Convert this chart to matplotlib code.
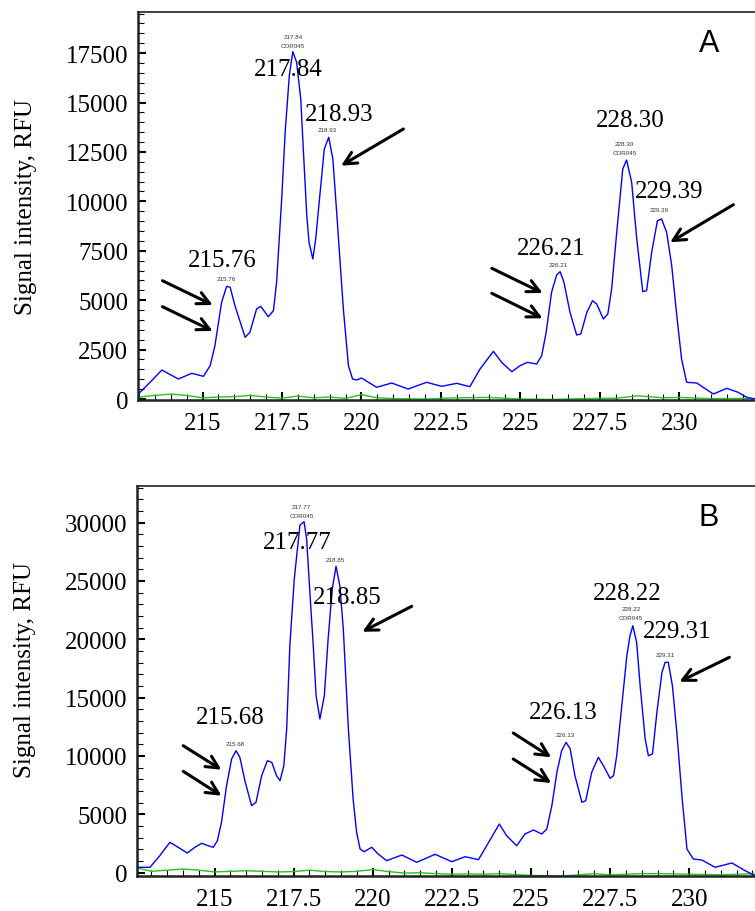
import matplotlib
matplotlib.use("Agg")
import matplotlib.pyplot as plt
from matplotlib.ticker import MultipleLocator

plt.rcParams['font.family'] = ['Liberation Serif', 'DejaVu Serif']

BLUE = "#0000ff"
GREEN = "#22c422"

# ---- panel A data (size in bp, signal in RFU) ----
aBlueX = [212.98, 213.35, 213.72, 214.24, 214.66, 215.03, 215.24, 215.39, 215.6, 215.76,
          215.87, 216.02, 216.34, 216.49, 216.7, 216.83, 217.07, 217.23, 217.33, 217.49,
          217.6, 217.73, 217.84, 217.96, 218.09, 218.17, 218.28, 218.35, 218.47, 218.56,
          218.7, 218.83, 218.97, 219.1, 219.22, 219.43, 219.59, 219.72, 219.85, 220.0,
          220.22, 220.48, 220.95, 221.47, 222.05, 222.52, 223.0, 223.41, 223.73, 224.15,
          224.41, 224.73, 224.99, 225.22, 225.51, 225.67, 225.81, 225.98, 226.14, 226.25,
          226.37, 226.56, 226.77, 226.9, 227.09, 227.27, 227.4, 227.61, 227.75, 227.87,
          228.03, 228.22, 228.34, 228.5, 228.66, 228.85, 228.97, 229.13, 229.31, 229.44,
          229.6, 229.76, 229.92, 230.07, 230.23, 230.55, 230.75, 231.07, 231.49, 231.85,
          232.12, 232.38]
aBlueY = [253, 845, 1467, 1012, 1300, 1148, 1687, 2697, 4893, 5703,
          5650, 4721, 3122, 3375, 4554, 4690, 4164, 4468, 5905, 10120,
          13510, 16360, 17574, 17037, 15180, 12650, 9275, 7929, 7084, 8096,
          10459, 12650, 13242, 12144, 9447, 4554, 1687, 1012, 961, 1063,
          845, 592, 810, 506, 845, 643, 794, 624, 1518, 2413,
          1856, 1383, 1687, 1856, 1771, 2193, 3375, 5399, 6274, 6441,
          5905, 4386, 3238, 3289, 4386, 4974, 4807, 4048, 4301, 5566,
          8435, 11638, 12093, 10965, 8096, 5430, 5481, 7423, 9022, 9108,
          8435, 6745, 4215, 2024, 845, 810, 592, 253, 541, 339,
          86, 0]
aGreenX = [212.98, 213.5, 214.0, 214.5, 215.0, 215.5, 216.0, 216.5, 217.0, 217.5, 218.0,
           218.5, 219.0, 219.5, 220.0, 220.5, 221.0, 222.0, 223.0, 224.0, 225.0, 226.0,
           227.0, 228.0, 228.7, 229.5, 230.0, 231.0, 232.0, 232.38]
aGreenY = [100, 180, 250, 180, 60, 100, 120, 180, 100, 40, 150,
           60, 100, 30, 220, 60, 20, 0, 60, 80, 0, -20,
           20, 40, 160, 60, 80, 20, 30, 20]

# ---- panel B data ----
bBlueX = [212.59, 212.96, 213.27, 213.59, 213.85, 214.14, 214.38, 214.59, 214.8, 214.96,
          215.09, 215.22, 215.38, 215.54, 215.68, 215.8, 215.96, 216.17, 216.31, 216.49,
          216.67, 216.81, 216.96, 217.07, 217.19, 217.28, 217.38, 217.52, 217.7, 217.83,
          217.91, 218.02, 218.12, 218.21, 218.33, 218.47, 218.59, 218.72, 218.84, 218.96,
          219.07, 219.23, 219.38, 219.49, 219.6, 219.73, 219.97, 220.17, 220.44, 220.92,
          221.39, 221.97, 222.5, 222.92, 223.34, 223.6, 224.0, 224.23, 224.55, 224.81,
          225.08, 225.34, 225.5, 225.66, 225.82, 225.97, 226.11, 226.24, 226.39, 226.61,
          226.73, 226.92, 227.13, 227.29, 227.5, 227.61, 227.71, 227.87, 228.03, 228.13,
          228.22, 228.34, 228.45, 228.61, 228.71, 228.84, 228.98, 229.14, 229.24, 229.34,
          229.47, 229.61, 229.77, 229.93, 230.13, 230.4, 230.82, 231.35, 231.77, 232.08]
bBlueY = [446, 446, 1440, 2588, 2160, 1671, 2160, 2503, 2297, 2160,
          2726, 4303, 7440, 9728, 10440, 9874, 7868, 5725, 6017, 8297,
          9582, 9445, 8297, 7868, 9154, 12300, 19440, 25156, 29785, 30070,
          28585, 23726, 19440, 15156, 13157, 15156, 20013, 24298, 26245, 24580,
          20870, 12300, 6300, 3446, 2014, 1783, 2160, 1586, 1012, 1500,
          874, 1560, 926, 1354, 1097, 2297, 4157, 3154, 2297, 3300,
          3643, 3300, 3728, 5725, 8588, 10440, 11160, 10585, 8297, 6017,
          6154, 8588, 9874, 9154, 8074, 8297, 10011, 14296, 18582, 20296,
          21153, 19730, 16010, 11442, 10011, 10157, 13730, 17159, 18016, 18016,
          16010, 12017, 6583, 2014, 1157, 1071, 446, 814, 154, -274]
bGreenX = [212.6, 213.0, 213.5, 214.0, 214.5, 215.0, 215.5, 216.0, 216.5, 217.0, 217.5,
           218.0, 218.5, 219.0, 219.5, 220.0, 220.5, 221.0, 221.5, 222.0, 222.5, 223.0,
           223.5, 224.0, 225.0, 226.0, 226.5, 227.0, 227.5, 228.5, 229.0, 230.0, 231.0,
           232.08]
bGreenY = [360, 100, 200, 300, 200, 50, 100, 150, 100, 50, 80,
           200, 80, 50, 100, 250, 80, -50, -20, -100, -150, -120,
           -150, -100, -250, -300, -200, -100, -200, -100, -100, -150, -200,
           -100]

xTicks = [215, 217.5, 220, 222.5, 225, 227.5, 230]
xTickLabels = ["215", "217.5", "220", "222.5", "225", "227.5", "230"]
aYTicks = [0, 2500, 5000, 7500, 10000, 12500, 15000, 17500]
bYTicks = [0, 5000, 10000, 15000, 20000, 25000, 30000]

# peak labels: (text, x, y) big, and small instrument labels
aBig = [("215.76", 215.61, 7033), ("217.84", 217.70, 16698), ("218.93", 219.30, 14421),
        ("226.21", 225.97, 7641), ("228.30", 228.47, 14117), ("229.39", 229.67, 10525)]
aSmall = [("215.76", 215.76, 6107), ("217.84", 217.84, 18353), ("COR045", 217.84, 17877),
          ("218.93", 218.91, 13627), ("226.21", 226.19, 6796), ("228.30", 228.27, 12918),
          ("COR045", 228.27, 12448), ("229.39", 229.36, 9563)]
aArrows = [((213.74, 5986), (215.32, 4756)), ((213.74, 4670), (215.32, 3441)),
           ((221.32, 13662), (219.36, 11805)), ((224.10, 6613), (225.70, 5364)),
           ((224.10, 5348), (225.70, 4083)), ((231.70, 9832), (229.71, 7929))]

bBig = [("215.68", 215.50, 13302), ("217.77", 217.61, 28370), ("218.85", 219.21, 23630),
        ("226.13", 226.01, 13774), ("228.22", 228.03, 23973), ("229.31", 229.61, 20673)]
bSmall = [("215.68", 215.67, 11100), ("217.77", 217.75, 31353), ("COR045", 217.75, 30582),
          ("218.85", 218.81, 26810), ("226.13", 226.08, 11871), ("228.22", 228.16, 22645),
          ("COR045", 228.16, 21873), ("229.31", 229.24, 18668)]
bArrows = [((214.01, 10868), (215.22, 8811)), ((214.01, 8674), (215.22, 6583)),
           ((221.23, 22816), (219.67, 20639)), ((224.44, 11957), (225.64, 9874)),
           ((224.44, 9728), (225.64, 7671)), ((231.27, 18445), (229.69, 16353))]


def drawPanel(ax, blueX, blueY, greenX, greenY, xlim, ylim, yTicks, yMinor,
              big, small, arrows, letter):
    ax.plot(greenX, greenY, color=GREEN, lw=1.0, zorder=2)
    ax.plot(blueX, blueY, color=BLUE, lw=1.0, zorder=3)
    ax.set_xlim(*xlim)
    ax.set_ylim(*ylim)

    ax.set_xticks(xTicks)
    ax.set_xticklabels(xTickLabels)
    ax.xaxis.set_minor_locator(MultipleLocator(0.5))
    ax.set_yticks(yTicks)
    ax.set_yticklabels([str(v) for v in yTicks])
    ax.yaxis.set_minor_locator(MultipleLocator(yMinor))

    ax.tick_params(which="major", direction="in", length=6, width=1.5,
                   labelsize=18, pad=7, right=False, top=False)
    ax.tick_params(which="minor", direction="in", length=4, width=0.8,
                   right=False, top=False)
    ax.tick_params(axis="x", which="major", pad=9)

    ax.spines["right"].set_visible(False)
    ax.spines["left"].set_linewidth(1.8)
    ax.spines["bottom"].set_linewidth(1.8)
    ax.spines["top"].set_linewidth(1.2)
    for s in ax.spines.values():
        s.set_color("#222222")

    ax.set_ylabel("Signal intensity, RFU", fontsize=18)
    ax.yaxis.set_label_coords(-0.163, 0.5)

    for txt, x, y in big:
        ax.text(x, y, txt, fontsize=18, ha="center", va="center", zorder=4)
    for txt, x, y in small:
        ax.text(x, y, txt, fontsize=4.5, ha="center", va="center", color="#333333",
                family=["Liberation Sans", "DejaVu Sans"], zorder=4)
    for tail, head in arrows:
        ax.annotate("", xy=head, xytext=tail,
                    arrowprops=dict(arrowstyle="->", lw=2.2, color="black",
                                    mutation_scale=22, shrinkA=0, shrinkB=0))
    ax.text(0.925, 0.92, letter, transform=ax.transAxes, fontsize=22,
            ha="center", va="center", family=["Liberation Sans", "DejaVu Sans"])


fig = plt.figure(figsize=(7.55, 9.12), dpi=100)
axA = fig.add_axes([138 / 755, 1 - 401 / 912, 1 - 138 / 755, 388 / 912])
axB = fig.add_axes([137 / 755, 1 - 877 / 912, 1 - 137 / 755, 390 / 912])

drawPanel(axA, aBlueX, aBlueY, aGreenX, aGreenY, (212.97, 232.38), (-50, 19580),
          aYTicks, 500, aBig, aSmall, aArrows, "A")
drawPanel(axB, bBlueX, bBlueY, bGreenX, bGreenY, (212.55, 232.08), (-300, 33130),
          bYTicks, 1000, bBig, bSmall, bArrows, "B")
axB.yaxis.set_label_coords(-0.163, 0.53)

fig.savefig("out.png", dpi=100)
